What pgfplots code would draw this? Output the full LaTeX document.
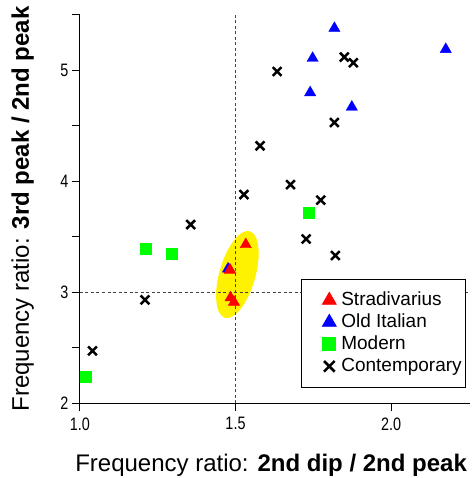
\documentclass[border=0pt]{standalone}
\usepackage{fontspec}
\setmainfont{Liberation Sans}
\newfontfamily\narrowfont[FakeStretch=0.8]{Liberation Sans}
\usepackage{pgfplots}
\pgfplotsset{compat=1.18}
\usetikzlibrary{shapes.geometric}
\definecolor{sred}{HTML}{FF0000}
\definecolor{sblue}{HTML}{0000FF}
\definecolor{sgreen}{HTML}{00FF00}
\definecolor{dgrey}{HTML}{444444}
\pgfplotsset{
  mk/.style={legend image code/.code={\path[draw=none,fill=none] (-25pt,0pt) -- (11pt,0pt);
      \path[##1,mark size=#1] plot coordinates {(0pt,0pt)};}},
  guide/.style={forget plot,dgrey,line width=0.8pt,dash pattern=on 3pt off 2.5pt},
}

\begin{document}
\begin{tikzpicture}
\begin{axis}[
  scale only axis, width=390pt, height=388pt,
  xmin=1, xmax=2.254, ymin=2, ymax=5.5,
  axis x line*=bottom, axis y line*=left,
  x axis line style={-}, y axis line style={-},
  axis line style={black,line width=1pt},
  xtick={1,1.5,2}, xticklabels={1.0,1.5,2.0},
  ytick={2,2.5,...,5.5}, yticklabels={2,,3,,4,,5,},
  tick align=outside, major tick length=8pt,
  tick style={black,line width=1pt},
  ticklabel style={font=\narrowfont\fontsize{18}{18}\selectfont},
  xticklabel style={yshift=-3pt},
  xlabel={Frequency ratio: \textbf{2nd dip / 2nd peak}},
  ylabel={Frequency ratio: \textbf{3rd peak / 2nd peak}},
  xlabel style={at={(axis description cs:0.49,-0.1753)},anchor=base,font=\fontsize{24}{24}\selectfont},
  ylabel style={at={(axis description cs:-0.131,0.5)},anchor=base,font=\fontsize{24}{24}\selectfont},
  clip=false,
  legend style={at={(rel axis cs:0.990,0.0387)},anchor=south east,draw=black,line width=0.8pt,
    fill=white,inner xsep=3pt,inner ysep=11pt,row sep=1.5pt,font=\fontsize{19}{21}\selectfont,
    cells={anchor=west},nodes={inner sep=1pt,text height=14pt,text depth=4.5pt}},
]
\coordinate (o) at (rel axis cs:0,0);
\node[ellipse,fill=yellow,minimum width=90pt,minimum height=36pt,inner sep=0pt,rotate=74]
  at (axis cs:1.506,3.159) {};
\addplot[guide] coordinates {(1.5,2) (1.5,5.5)};
\addplot[guide] coordinates {(1.0,3) (2.254,3)};

% Stradivarius
\addplot[only marks,mark=triangle*,mark size=6.5pt,draw=sred,fill=sred,mk=8pt] coordinates {
  (1.533,3.43) (1.482,3.20) (1.484,2.95) (1.495,2.91)};
\addlegendentry{Stradivarius}
% Old Italian
\addplot[only marks,mark=triangle*,mark size=6.5pt,draw=sblue,fill=sblue,mk=8pt] coordinates {
  (1.818,5.38) (2.176,5.19) (1.748,5.11) (1.740,4.80) (1.874,4.67) (1.476,3.21)};
\addlegendentry{Old Italian}
\addplot[forget plot,only marks,mark=triangle*,mark size=6.5pt,draw=sred,fill=sred] coordinates {
  (1.482,3.20)};
% Modern
\addplot[only marks,mark=square*,mark size=5.6pt,draw=sgreen,fill=sgreen,mk=6.5pt] coordinates {
  (1.212,3.39) (1.296,3.35) (1.019,2.24) (1.736,3.72)};
\addlegendentry{Modern}
% Contemporary
\addplot[only marks,mark=x,mark size=6.2pt,black,mark options={line width=2.5pt},mk=7.5pt] coordinates {
  (1.634,4.99) (1.850,5.12) (1.879,5.07) (1.818,4.53) (1.579,4.32) (1.677,3.97)
  (1.527,3.88) (1.774,3.83) (1.727,3.48) (1.821,3.33) (1.356,3.61) (1.209,2.93)
  (1.040,2.47)};
\addlegendentry{Contemporary}
\end{axis}
\pgfresetboundingbox
\path (o) ++(-80pt,-75pt) rectangle ++(475pt,478pt);
\end{tikzpicture}
\end{document}
